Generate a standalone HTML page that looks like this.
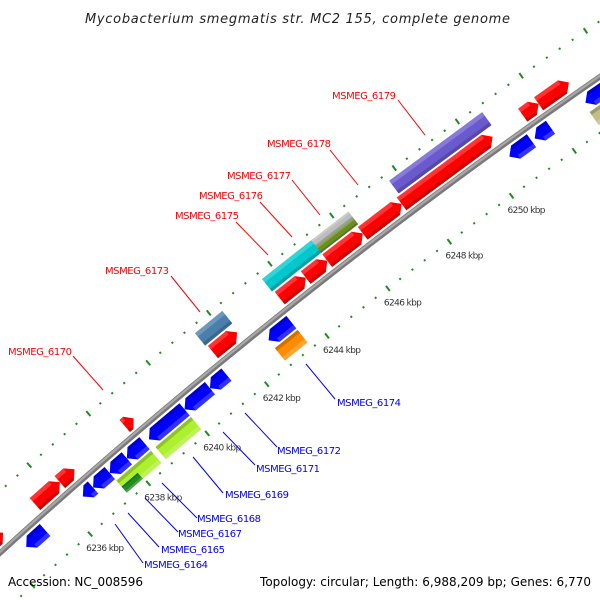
<!DOCTYPE html>
<html><head><meta charset="utf-8"><style>
html,body{margin:0;padding:0;background:#fff;overflow:hidden;width:600px;height:600px;}
svg{display:block;font-family:"DejaVu Sans","Liberation Sans",sans-serif;}
</style></head><body>
<svg id="map" width="600" height="600" viewBox="0 0 600 600" xmlns="http://www.w3.org/2000/svg" overflow="hidden">
<rect x="0" y="0" width="600" height="600" fill="#fff"/>
<g id="ticks"></g>
<g id="backbone"></g>
<g id="genes"></g>
<g id="labels"></g>
<text x="85" y="23" textLength="425" font-size="13" font-style="italic" fill="#222">Mycobacterium smegmatis str. MC2 155, complete genome</text>
<text x="8" y="586" textLength="135" font-size="12" fill="#000">Accession: NC_008596</text>
<text x="260" y="586" textLength="331" font-size="12" fill="#000">Topology: circular; Length: 6,988,209 bp; Genes: 6,770</text>
</svg>
<script>
// ---- data (kbp) ----
const fwdStart = [6233.5, 6235.45, 6236.3, 6238.5, 6241.45, 6243.65, 6244.5, 6245.2, 6246.35, 6247.6, 6251.45, 6251.95];
const fwdEnd   = [6234.35, 6236.3, 6236.8, 6238.8, 6242.25, 6244.5, 6245.2, 6246.35, 6247.6, 6250.5, 6251.95, 6252.9];
const revStart = [6234.55, 6236.5, 6236.85, 6237.42, 6238.0, 6238.75, 6239.95, 6240.8, 6242.75, 6250.55, 6251.35, 6252.95];
const revEnd   = [6235.2, 6236.85, 6237.42, 6238.0, 6238.6, 6239.95, 6240.8, 6241.35, 6243.5, 6251.25, 6251.85, 6254.5];
const fwdCogStart = [6241.4, 6243.6, 6244.45, 6245.2, 6247.7];
const fwdCogEnd   = [6242.3, 6244.45, 6245.25, 6246.4, 6250.65];
const fwdCogCat   = ["N", "C", "C", "S", "E"];
const revCogStart = [6238.75, 6237.42, 6242.75, 6252.9];
const revCogEnd   = [6239.95, 6238.6, 6243.5, 6254.5];
const revCogCat   = ["M", "M", "P", "K"];
const tickLabels = [6236, 6238, 6240, 6242, 6244, 6246, 6248, 6250];

const palette = {N:"#4a7fab", C:"#00c8cc", S:"#bdbdbd", E:"#6a5acd", M:"#adf02f", P:"#ff8c00", K:"#c4bd86"};
const NS = "http://www.w3.org/2000/svg";
const CX = 3874, CY = 4817, R = 5761, K0 = 6236, TH0 = -131.46, DEG = 0.3871;
function ang(k){ return (TH0 + (k - K0) * DEG) * Math.PI / 180; }
function pt(k, off){ const t = ang(k), r = R + off; return [CX + r * Math.cos(t), CY + r * Math.sin(t)]; }
function mk(tag, attrs, parent){ const e = document.createElementNS(NS, tag); for (const a in attrs) e.setAttribute(a, attrs[a]); parent.appendChild(e); return e; }
function pts(arr){ return arr.map(p => p[0].toFixed(2) + "," + p[1].toFixed(2)).join(" "); }

// ---- tick rings ----
const tg = document.getElementById("ticks");
[46, -46].forEach(off => {
  for (let n = -12; n <= 55; n++) {
    const k = K0 + n * 0.4;
    const major = (n % 5 === 0);
    const h = major ? 3.2 : 1;
    const a = pt(k, off - h), b = pt(k, off + h);
    const l = mk("line", {x1:a[0], y1:a[1], x2:b[0], y2:b[1], stroke:"#1e8c1e", "stroke-width": 2}, tg);
    
    
  }
});
tickLabels.forEach(k => {
  const p = pt(k, -46);
  const t = mk("text", {x:(p[0] - 4).toFixed(1), y:(p[1] + 17).toFixed(1), "font-size":"9", fill:"#333", textLength:"38"}, tg);
  t.textContent = k + " kbp";
  
  
});

// ---- backbone ----
const bg = document.getElementById("backbone");
const bb = [];
for (let k = 6230; k <= 6258; k += 0.5) bb.push(pt(k, 0));
const b1 = mk("polyline", {points:pts(bb), fill:"none", stroke:"#7a7a7a", "stroke-width":"5.5"}, bg);


const b2 = mk("polyline", {points:pts(bb), fill:"none", stroke:"#a8a8a8", "stroke-width":"2.2", transform:"translate(-0.6,-0.6)"}, bg);



// ---- genes ----
const gg = document.getElementById("genes");
function shapePts(s, e, r1, r2, dir, arrow){
  const head = 0.2;
  const mid = (r1 + r2) / 2;
  if (!arrow) return [pt(s, r1), pt(e, r1), pt(e, r2), pt(s, r2)];
  if (dir > 0) {
    const hb = Math.max(s, e - Math.min(head, (e - s) * 0.6));
    return [pt(s, r1), pt(hb, r1), pt(e, mid), pt(hb, r2), pt(s, r2)];
  } else {
    const hb = Math.min(e, s + Math.min(head, (e - s) * 0.6));
    return [pt(e, r1), pt(hb, r1), pt(s, mid), pt(hb, r2), pt(e, r2)];
  }
}
function drawGene(s, e, r1, r2, dir, color, arrow, name){
  const g = mk("g", {}, gg);
  
  
  mk("polygon", {points:pts(shapePts(s, e, r1, r2, dir, arrow)), fill:color}, g);
  const outer = Math.abs(r1) > Math.abs(r2) ? r1 : r2;
  const inner = outer === r1 ? r2 : r1;
  const edgeO = outer + (inner - outer) * 0.28;
  const edgeI = inner + (outer - inner) * 0.22;
  const hs = dir > 0 ? s : s + (arrow ? 0.2 : 0), he = dir > 0 ? e - (arrow ? 0.2 : 0) : e;
  if (he > hs) {
    mk("polygon", {points:pts([pt(hs, outer), pt(he, outer), pt(he, edgeO), pt(hs, edgeO)]), fill:"rgba(255,255,255,0.2)"}, g);
    mk("polygon", {points:pts([pt(hs, inner), pt(he, inner), pt(he, edgeI), pt(hs, edgeI)]), fill:"rgba(0,0,0,0.18)"}, g);
  }
}
fwdStart.forEach((s, i) => drawGene(s, fwdEnd[i], 5, 21, 1, "#ff0000", true, "forward-gene"));
revStart.forEach((s, i) => drawGene(s, revEnd[i], -5, -21, -1, "#0000ff", true, "reverse-gene"));
fwdCogStart.forEach((s, i) => {
  const c = palette[fwdCogCat[i]];
  if (fwdCogCat[i] === "S") {
    drawGene(s, fwdCogEnd[i], 31, 39, 1, c, false, "forward-cog-feature");
    drawGene(s, fwdCogEnd[i], 23, 31, 1, "#6b8e23", false, "forward-cog-feature");
  } else drawGene(s, fwdCogEnd[i], 23, 39, 1, c, false, "forward-cog-feature");
});
revCogStart.forEach((s, i) => {
  drawGene(s, revCogEnd[i], -23, -39, -1, palette[revCogCat[i]], false, "reverse-cog-feature");
  if (i === 1) drawGene(s, s + 0.55, -31, -39, -1, "#228b22", false, "reverse-cog-feature");
});

// ---- labels ----
const lg = document.getElementById("labels");
const redLabels = [["MSMEG_6170",8,355,73,356,103,390],["MSMEG_6173",105,274,171,276,200,312],["MSMEG_6175",175,219,236,222,268,255],["MSMEG_6176",199,199,260,202,292,237],["MSMEG_6177",227,179,292,180,320,215],["MSMEG_6178",267,147,330,150,358,185],["MSMEG_6179",332,99,398,100,425,135]];
const blueLabels = [["MSMEG_6174",337,406,306,364,335,399],["MSMEG_6172",277,454,245,413,277,447],["MSMEG_6171",256,472,223,432,255,465],["MSMEG_6169",225,498,193,457,223,493],["MSMEG_6168",197,522,162,483,197,518],["MSMEG_6167",178,537,145,498,178,532],["MSMEG_6165",161,553,128,513,159,547],["MSMEG_6164",144,568,115,524,143,563]];
function drawLabels(list, color){
  list.forEach(L => {
    const ln = mk("line", {x1:L[3], y1:L[4], x2:L[5], y2:L[6], stroke:color, "stroke-width":"1"}, lg);
    
    
    const t = mk("text", {x:L[1], y:L[2], "font-size":"10", fill:color, textLength:"64"}, lg);
    t.textContent = L[0];
    
    
  });
}
drawLabels(redLabels, "#ff0000");
drawLabels(blueLabels, "#0000ff");
</script>
</body></html>
